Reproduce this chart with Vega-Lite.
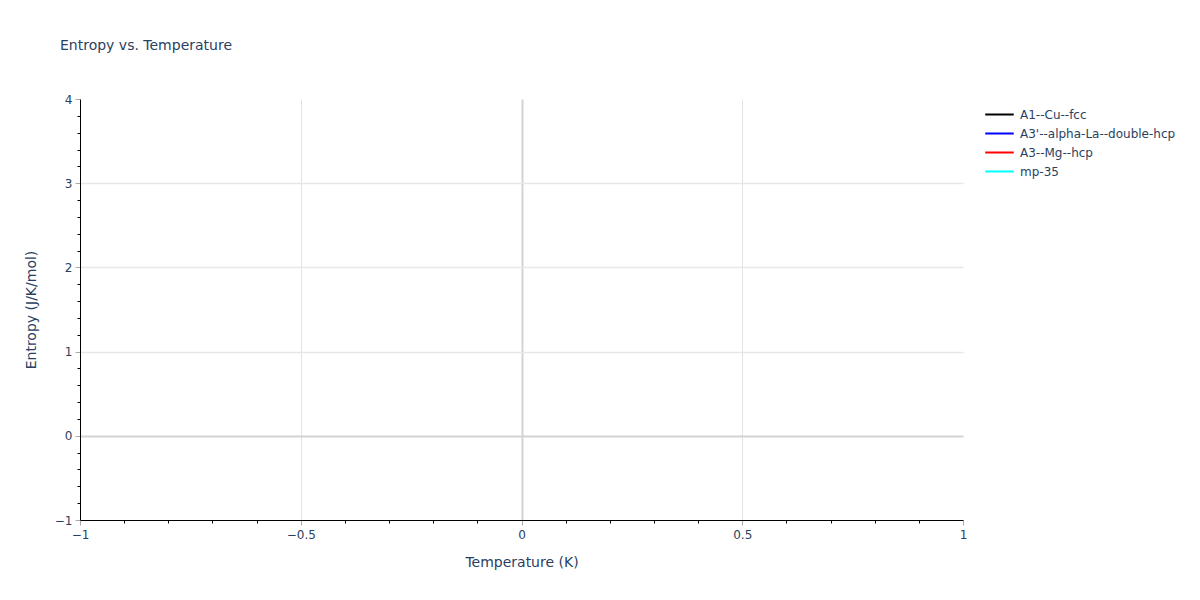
{
  "$schema": "https://vega.github.io/schema/vega-lite/v6.json",
  "description": "Entropy vs. Temperature, empty plotly-style chart with four series in the legend.",
  "background": "white",
  "autosize": {"type": "none"},
  "padding": {"left": 80, "top": 99, "right": 237, "bottom": 80},
  "width": 883,
  "height": 421,
  "title": {
    "text": "Entropy vs. Temperature",
    "anchor": "start",
    "frame": "group",
    "dx": -20,
    "offset": 40,
    "fontSize": 14,
    "fontWeight": "normal",
    "font": "DejaVu Sans",
    "color": "#2a3f5f"
  },
  "data": {
    "values": [
      {"structure": "A1--Cu--fcc", "temperature": 0, "entropy": 0},
      {"structure": "A3'--alpha-La--double-hcp", "temperature": 0, "entropy": 0},
      {"structure": "A3--Mg--hcp", "temperature": 0, "entropy": 0},
      {"structure": "mp-35", "temperature": 0, "entropy": 0}
    ]
  },
  "layer": [
    {
      "mark": {"type": "line", "strokeWidth": 2},
      "encoding": {
        "x": {
          "field": "temperature",
          "type": "quantitative",
          "scale": {"domain": [-1, 1], "nice": false, "zero": false},
          "axis": {
            "orient": "bottom",
            "title": "Temperature (K)",
            "values": [-1, -0.5, 0, 0.5, 1],
            "format": "~g",
            "labelFlush": false,
            "grid": true,
            "gridColor": {"condition": {"test": "datum.value === 0", "value": "#d3d3d3"}, "value": "#e3e3e3"},
            "gridWidth": {"condition": {"test": "datum.value === 0", "value": 2}, "value": 1},
            "gridOpacity": {"condition": {"test": "abs(datum.value) === 1", "value": 0}, "value": 1},
            "domainColor": "#000000",
            "tickColor": "#a8a8a8",
            "tickSize": 5,
            "labelPadding": 4,
            "titlePadding": 15
          }
        },
        "y": {
          "field": "entropy",
          "type": "quantitative",
          "scale": {"domain": [-1, 4], "nice": false, "zero": false},
          "axis": {
            "orient": "left",
            "title": "Entropy (J/K/mol)",
            "values": [-1, 0, 1, 2, 3, 4],
            "format": "~g",
            "labelFlush": false,
            "grid": true,
            "gridColor": {"condition": {"test": "datum.value === 0", "value": "#d3d3d3"}, "value": "#e8e8e8"},
            "gridWidth": {"condition": {"test": "datum.value === 0", "value": 2}, "value": 1.5},
            "gridOpacity": {"condition": {"test": "datum.value === -1 || datum.value === 4", "value": 0}, "value": 1},
            "domainColor": "#000000",
            "tickColor": "#a8a8a8",
            "tickSize": 5,
            "labelPadding": 3,
            "titlePadding": 16
          }
        },
        "color": {
          "field": "structure",
          "type": "nominal",
          "scale": {
            "domain": ["A1--Cu--fcc", "A3'--alpha-La--double-hcp", "A3--Mg--hcp", "mp-35"],
            "range": ["#000000", "#0000ff", "#ff0000", "#00ffff"]
          },
          "legend": {
            "title": null,
            "orient": "right",
            "offset": 21,
            "padding": 5,
            "symbolType": "M-1.5,0H1.5",
            "symbolSize": 361,
            "symbolStrokeWidth": 2,
            "labelOffset": 10,
            "rowPadding": 2
          }
        }
      }
    },
    {
      "mark": {"type": "point", "opacity": 0},
      "encoding": {
        "x": {
          "field": "temperature",
          "type": "quantitative",
          "axis": {
            "orient": "bottom",
            "title": null,
            "values": [-0.9, -0.8, -0.7, -0.6, -0.4, -0.3, -0.2, -0.1, 0.1, 0.2, 0.3, 0.4, 0.6, 0.7, 0.8, 0.9],
            "labels": false,
            "domain": false,
            "grid": false,
            "tickColor": "#000000",
            "tickSize": 3
          }
        },
        "y": {
          "field": "entropy",
          "type": "quantitative",
          "axis": {
            "orient": "left",
            "title": null,
            "values": [-0.8, -0.6, -0.4, -0.2, 0.2, 0.4, 0.6, 0.8, 1.2, 1.4, 1.6, 1.8, 2.2, 2.4, 2.6, 2.8, 3.2, 3.4, 3.6, 3.8],
            "labels": false,
            "domain": false,
            "grid": false,
            "tickColor": "#000000",
            "tickSize": 3
          }
        }
      }
    }
  ],
  "resolve": {"axis": {"x": "independent", "y": "independent"}},
  "config": {
    "font": "DejaVu Sans",
    "view": {"stroke": null},
    "axis": {
      "labelFont": "DejaVu Sans",
      "labelFontSize": 12,
      "labelColor": "#2a3f5f",
      "titleFont": "DejaVu Sans",
      "titleFontSize": 14,
      "titleFontWeight": "normal",
      "titleColor": "#2a3f5f",
      "domainWidth": 1
    },
    "legend": {
      "labelFont": "DejaVu Sans",
      "labelFontSize": 12,
      "labelColor": "#2a3f5f"
    }
  }
}
